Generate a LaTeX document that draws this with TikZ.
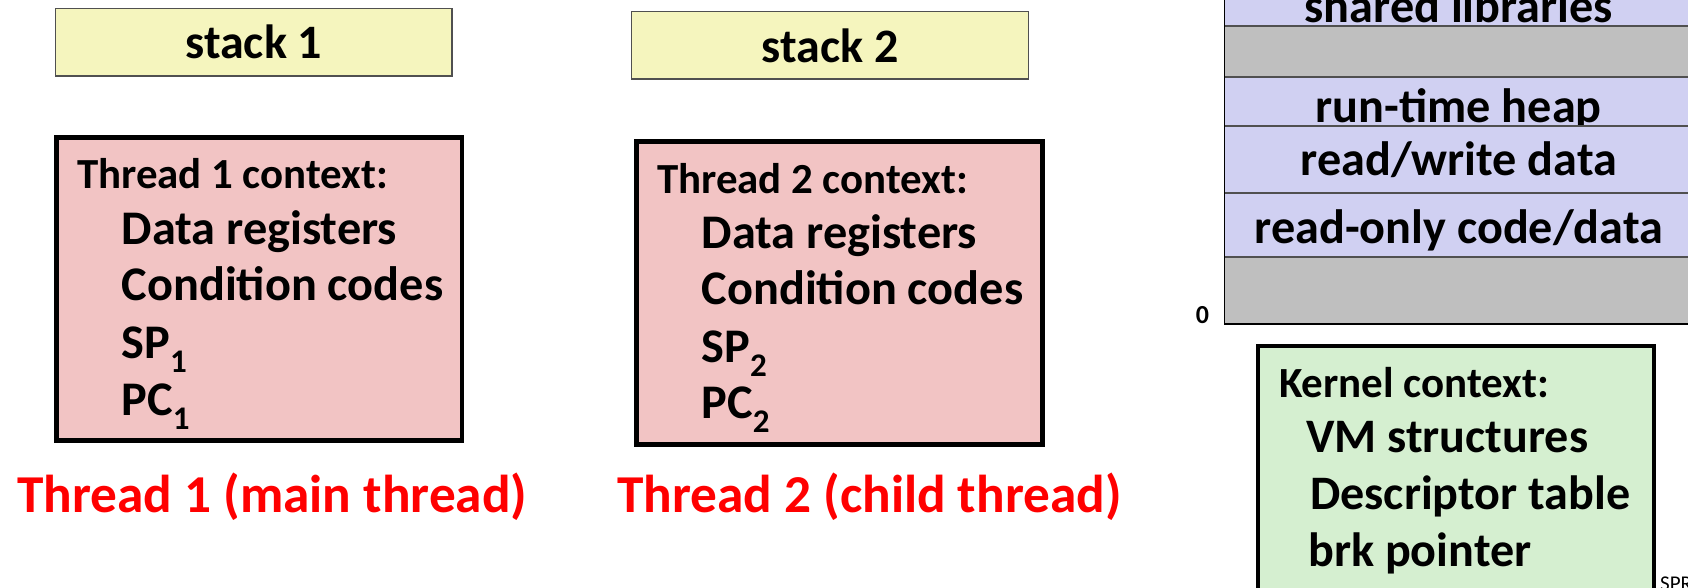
\documentclass[tikz,border=0pt]{standalone}
\usepackage{fontspec}
\setmainfont{Carlito}
\definecolor{stackfill}{RGB}{245,245,190}
\definecolor{ctxfill}{RGB}{242,196,196}
\definecolor{segfill}{RGB}{208,208,242}
\definecolor{gapfill}{RGB}{191,191,191}
\definecolor{kernfill}{RGB}{213,239,208}
\definecolor{redlabel}{RGB}{255,0,0}
\definecolor{segline}{RGB}{80,80,80}
\newcommand\fsz[1]{\fontsize{#1}{#1}\selectfont}
\newcommand\subidx[1]{\raisebox{-14pt}{\fsz{33}#1}}
\tikzset{
  stackbox/.style={draw=segline, line width=1.3pt, fill=stackfill},
  ctxbox/.style={draw=black, line width=4.7pt, fill=ctxfill},
  kernbox/.style={draw=black, line width=4.5pt, fill=kernfill},
  segbox/.style={draw=segline, line width=1.5pt, fill=segfill},
  gapbox/.style={draw=segline, line width=1.5pt, fill=gapfill},
  txt/.style={inner sep=0pt, font=\bfseries, anchor=base west},
  ctitle/.style={txt, font=\bfseries\fsz{42.9}},
  citem/.style={txt, font=\bfseries\fsz{48.3}},
  segtxt/.style={inner sep=0pt, anchor=base, font=\bfseries\fsz{48.2}},
  stacktxt/.style={inner sep=0pt, anchor=base, font=\bfseries\fsz{48}},
  redtxt/.style={txt, text=redlabel, font=\bfseries\fsz{53.3}},
}
\begin{document}
\begin{tikzpicture}[x=1pt,y=-1pt]
\useasboundingbox (0,0) rectangle (1688,587);
% stacks
\draw[stackbox] (55.4,8.3) rectangle (452.1,76);
\node[stacktxt] (s1) at (253.8,58) {stack 1};
\draw[stackbox] (631.8,11.7) rectangle (1028.2,79);
\node[stacktxt] (s2) at (830,62) {stack 2};
% thread 1 context
\draw[ctxbox] (56.6,137.5) rectangle (462,440.5);
\node[ctitle] (t1title) at (76.8,188) {Thread 1 context:};
\node[citem] (t1a) at (121.4,244) {Data registers};
\node[citem] (t1b) at (121.4,300) {Condition codes};
\node[citem] (t1c) at (121.4,358) {SP\subidx{1}};
\node[citem] (t1d) at (121.4,415) {PC\subidx{1}};
% thread 2 context
\draw[ctxbox] (636.6,141.7) rectangle (1042.5,444.7);
\node[ctitle] (t2title) at (656.8,193) {Thread 2 context:};
\node[citem] (t2a) at (701.4,248) {Data registers};
\node[citem] (t2b) at (701.4,304) {Condition codes};
\node[citem] (t2c) at (701.4,362) {SP\subidx{2}};
\node[citem] (t2d) at (701.4,418) {PC\subidx{2}};
% red labels
\node[redtxt] (l1) at (17.1,512) {Thread 1 (main thread)};
\node[redtxt] (l2) at (617.1,512) {Thread 2 (child thread)};
% address space column
\draw[segbox] (1224.4,-20) rectangle (1720,26);
\node[segtxt] (shl) at (1458.8,22) {shared libraries};
\draw[gapbox] (1224.4,26) rectangle (1720,77);
\draw[segbox] (1224.4,77) rectangle (1720,126);
\node[segtxt] (heap) at (1458.8,122) {run-time heap};
\draw[segbox] (1224.4,126) rectangle (1720,193);
\node[segtxt] (rw) at (1458.8,175) {read/write data};
\draw[segbox] (1224.4,193) rectangle (1720,257);
\node[segtxt] (ro) at (1458.8,243) {read-only code/data};
\draw[gapbox] (1224.4,257) rectangle (1720,324);
\draw[black, line width=1.5pt] (1224.4,-20) -- (1224.4,324) -- (1720,324);
\node[txt, font=\bfseries\fsz{26}] (zero) at (1195.6,323) {0};
% kernel context
\draw[kernbox] (1258,346) rectangle (1654,620);
\node[txt, font=\bfseries\fsz{43}] (ktitle) at (1279,397) {Kernel context:};
\node[txt, font=\bfseries\fsz{48.1}] (ka) at (1306,452) {VM structures};
\node[txt, font=\bfseries\fsz{48.1}] (kb) at (1310,509) {Descriptor table};
\node[txt, font=\bfseries\fsz{48.1}] (kc) at (1308,566) {brk pointer};
\node[txt, font=\fsz{21}] (spr) at (1660,590) {SPR};
\end{tikzpicture}
\end{document}
